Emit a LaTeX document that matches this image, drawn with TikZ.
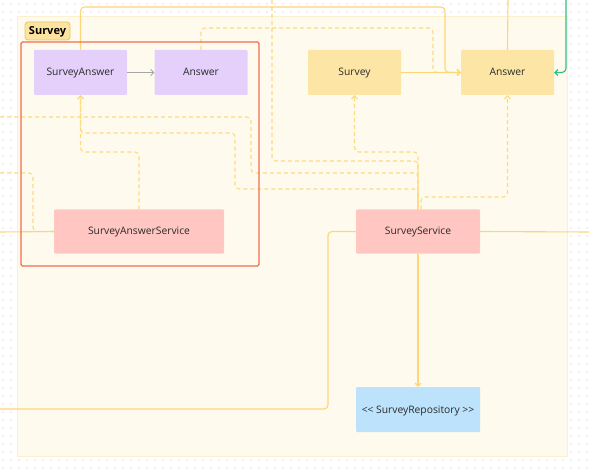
\documentclass[tikz,border=0pt]{standalone}
\usepackage{fontspec}
\setmainfont{Open Sans}
\usetikzlibrary{arrows.meta}
\definecolor{dotc}{HTML}{BDBDBD}
\definecolor{contfill}{HTML}{FEFBEE}
\definecolor{contdraw}{HTML}{FBF0D0}
\definecolor{labfill}{HTML}{FCE39F}
\definecolor{labdraw}{HTML}{E6C46C}
\definecolor{framered}{HTML}{F36B4F}
\definecolor{lav}{HTML}{E4D0FB}
\definecolor{yel}{HTML}{FDE6A5}
\definecolor{pink}{HTML}{FFC6C2}
\definecolor{blu}{HTML}{BCE2FC}
\definecolor{lineyel}{HTML}{FDD677}
\definecolor{dashyel}{HTML}{FDDA80}
\definecolor{grn}{HTML}{2FC07E}
\definecolor{txt}{HTML}{2A2A2A}
\tikzset{
  box/.style={draw=none, rounded corners=1pt, minimum width=#1, inner sep=0pt, text=txt, font=\fontsize{10.3}{12}\selectfont, text height=8.5pt, text depth=1.5pt},
  purp/.style={box=93pt, fill=lav, minimum height=45pt},
  yelbox/.style={box=93pt, fill=yel, minimum height=45pt},
  pinkbox/.style={box=#1, fill=pink, minimum height=44pt},
  bluebox/.style={box=124pt, fill=blu, minimum height=45pt},
  tip/.style={-{Straight Barb[length=3pt,width=6pt]}},
  solidline/.style={draw=lineyel, line width=1.1pt, rounded corners=4pt},
  dashline/.style={draw=dashyel, line width=1.1pt, dash pattern=on 4pt off 3pt, rounded corners=4pt},
  greyarrow/.style={draw=black!35, line width=0.8pt, -{Straight Barb[length=3pt,width=6pt]}},
  greenline/.style={draw=grn, line width=1.1pt, rounded corners=4pt},
}
\begin{document}
\begin{tikzpicture}[x=1pt,y=-1pt]
\useasboundingbox (0,0) rectangle (589,473);
\fill[white] (0,0) rectangle (589,473);
% dot grid
\foreach \i in {0,...,73} {
  \foreach \j in {0,...,59} {
    \fill[dotc] ({3+8*\i},{4+8*\j}) circle (0.6pt);
  }
}
% container
\draw[fill=contfill, draw=contdraw, line width=0.8pt] (17,16) rectangle (567,456);
\node[draw=labdraw, fill=labfill, rounded corners=3pt, line width=0.8pt, minimum width=45pt, minimum height=18pt, inner sep=0pt, font=\bfseries\fontsize{11}{13}\selectfont, text=black, text height=9.5pt, text depth=1.5pt] (lab) at (47.5,31) {Survey};

% nodes
\node[purp] (sa) at (80.5,72.5) {SurveyAnswer};
\node[purp] (a1) at (201,72.5) {Answer};
\node[yelbox] (s) at (354.5,72.5) {Survey};
\node[yelbox] (a2) at (507.5,72.5) {Answer};
\node[pinkbox=170pt] (sas) at (139,231.5) {SurveyAnswerService};
\node[pinkbox=124pt] (ss) at (418,231.5) {SurveyService};
\node[bluebox] (sr) at (418,409.5) {<\kern0pt< SurveyRepository >\kern0pt>};

% free ends
\coordinate (topA) at (508,0);
\coordinate (topG) at (566,0);
\coordinate (topD) at (272,0);
\coordinate (leftD1) at (0,117);
\coordinate (leftD2) at (0,173);
\coordinate (leftS1) at (0,232);
\coordinate (leftS2) at (0,409);
\coordinate (rightS) at (589,232);

% dashed connectors
\draw[dashline] (leftD1) -- (251,117) -- (251,173) -- (418,173) -- (ss.north -| 418,0);
\draw[dashline] (topD) -- (272,161) -- (418,161) -- (ss.north -| 418,0);
\draw[dashline] (leftD2) -- (33,173) -- (33,231.5) -- (sas.west);
\draw[dashline, tip] (ss.north -| 418,0) -- (418,189) -- (235,189) -- (235,133) -- (80.5,133) -- (sa.south);
\draw[dashline, tip] (sas.north) -- (139,152) -- (80.5,152) -- (sa.south);
\draw[dashline, tip] (ss.north -| 418,0) -- (418,152) -- (354.5,152) -- (s.south);
\draw[dashline, tip] (ss.north -| 421,0) -- (421,197) -- (507.5,197) -- (a2.south);
\draw[dashline, tip] (a1.north) -- (201,28) -- (433,28) -- (433,72.5) -- (a2.west);

% solid connectors
\draw[solidline] (leftS1) -- (sas.west);
\draw[solidline] (ss.west) -- (328,231.5) -- (328,409) -- (leftS2);
\draw[solidline] (ss.east) -- (rightS);
\draw[solidline, tip] (ss.south) -- (sr.north);
\draw[solidline, tip] (sa.north) -- (80.5,7) -- (445,7) -- (445,72.5) -- (a2.west);
\draw[solidline, tip] (s.east) -- (a2.west);
\draw[solidline] (a2.north) -- (topA);
\draw[greenline, tip] (topG) -- (566,72.5) -- (a2.east);
\draw[greyarrow] (sa.east) -- (a1.west);

% red frame
\draw[draw=framered, line width=1.4pt, rounded corners=1.5pt] (21,42) rectangle (259,266);
\end{tikzpicture}
\end{document}
